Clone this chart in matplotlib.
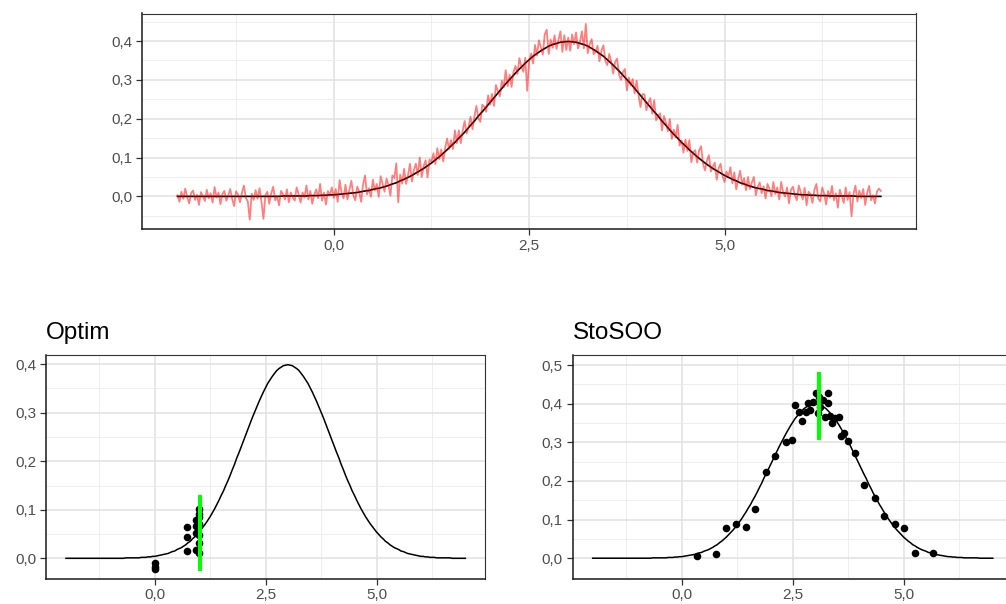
import numpy as np
import matplotlib
matplotlib.use('Agg')
import matplotlib.pyplot as plt

plt.rcParams['font.family'] = ['Liberation Sans', 'DejaVu Sans']

# density curve, x from -2 to 7 in steps of 0.05 (values in 1/1000)
curve_y = [0, 0, 0, 0, 0, 0, 0, 0, 0, 0, 0, 0, 0, 0, 0, 0, 0, 0, 0, 0, 0, 0, 0, 0, 0, 0, 0,
           1, 1, 1, 1, 1, 1, 1, 2, 2, 2, 3, 3, 4, 4,
           5, 6, 7, 8, 9, 10, 12, 14, 15, 18, 20, 22, 25, 28, 32, 35, 40, 44, 49, 54,
           60, 66, 72, 79, 86, 94, 102, 111, 120, 130, 139, 150, 160, 171, 183, 194, 207, 218, 230, 242,
           254, 266, 278, 290, 301, 312, 323, 333, 343, 352, 361, 368, 375, 381, 387, 391, 394, 397, 398, 399,
           398, 397, 394, 391, 387, 381, 375, 368, 361, 352, 343, 333, 323, 312, 301, 290, 278, 266, 254, 242,
           230, 218, 207, 194, 183, 171, 160, 150, 139, 130, 120, 111, 102, 94, 86, 79, 72, 66, 60, 54,
           49, 44, 40, 35, 32, 28, 25, 22, 20, 18, 15, 14, 12, 10, 9, 8, 7, 6, 5, 4,
           4, 3, 3, 2, 2, 2, 1, 1, 1, 1, 1, 1, 1, 0, 0, 0, 0, 0, 0, 0]
curve_x = np.linspace(-2, 7, len(curve_y))
curve_y = np.array(curve_y) / 1000

# noisy observations, x from -2 to 7 in steps of 0.025 (values in 1/1000)
noisy_y = [3, -14, 12, -6, 20, -2, -18, 9, 15, -9, 4, -22, 11, 1, -12, 17, -5, 8, -16, 24,
           -3, 10, -20, 6, 14, -11, 2, 19, -7, -25, 13, 5, -15, 9, 28, -4, -13, -60, 7, -9,
           16, -6, 21, -14, -58, 3, 12, -19, 8, 25, -10, 1, -23, 14, 6, -8, 18, -15, 10, -2,
           -11, 23, 6, -16, 10, -3, 28, -8, 14, -19, 4, 18, -5, 32, -11, 10, -21, 14, 2, 23,
           -4, 19, -14, 42, 10, -5, 30, -8, 17, 40, 3, -10, 25, 13, -14, 31, 54, 5, 21, -1,
           43, 15, 32, -1, 52, 32, 12, 46, 29, 2, 54, 47, 85, -15, 56, 33, 71, 32, 54, 84,
           38, 68, 84, 55, 100, 50, 78, 93, 49, 95, 89, 111, 83, 124, 96, 121, 90, 124, 149, 122,
           145, 122, 170, 137, 170, 137, 170, 194, 162, 179, 205, 173, 207, 233, 201, 192, 236, 231, 218, 260,
           236, 264, 233, 287, 271, 258, 298, 281, 325, 284, 313, 282, 321, 336, 315, 356, 334, 321, 357, 272,
           348, 368, 342, 390, 363, 402, 384, 365, 418, 429, 367, 404, 383, 415, 380, 402, 425, 372, 415, 377,
           409, 375, 417, 392, 422, 381, 397, 425, 381, 444, 369, 392, 405, 366, 373, 388, 348, 375, 389, 349,
           338, 367, 347, 316, 346, 355, 314, 300, 320, 328, 273, 306, 286, 302, 265, 298, 260, 230, 263, 263,
           222, 242, 253, 213, 248, 196, 208, 214, 170, 207, 190, 168, 199, 148, 172, 152, 184, 131, 144, 113,
           146, 117, 145, 88, 114, 119, 87, 119, 129, 84, 67, 92, 106, 64, 76, 87, 43, 73, 84, 52,
           37, 64, 51, 75, 34, 62, 18, 45, 66, 30, 47, 16, 50, 19, 36, 50, 3, 24, 36, 8,
           26, -5, 32, 19, 1, 37, 6, 23, -8, 37, 10, 0, 23, -18, 17, 25, 3, -10, 28, 11,
           -8, 22, -23, 12, 6, -17, 17, 32, -6, -13, 23, 7, -21, 14, -3, 27, -10, 8, -29, 17,
           2, -17, 23, -9, 11, -51, 6, 28, -13, 15, -4, 19, -22, 8, 27, -10, 3, -18, 12, 20,
           14]
noisy_x = np.linspace(-2, 7, len(noisy_y))
noisy_y = np.array(noisy_y) / 1000

# Optim evaluations
optim_x = [0, 0, 0, 0.73, 0.73, 0.73, 0.94, 0.94, 0.94, 0.94,
           0.99, 0.99, 0.99, 0.99, 0.99, 0.99, 0.99]
optim_y = [-0.010, -0.017, -0.023, 0.065, 0.043, 0.016, 0.079, 0.067, 0.053, 0.017,
           0.101, 0.092, 0.085, 0.070, 0.048, 0.032, 0.011]
optim_best = 1.01
optim_seg = (-0.023, 0.126)

# StoSOO evaluations
sto_x = [0.35, 0.78, 1.00, 1.23, 1.45, 1.66, 1.89, 2.11, 2.34, 2.49,
         2.55, 2.64, 2.71, 2.79, 2.85, 2.88, 2.95, 3.03, 3.08, 3.06,
         3.12, 3.18, 3.23, 3.30, 3.30, 3.34, 3.38, 3.45, 3.53, 3.58,
         3.66, 3.74, 3.89, 4.11, 4.34, 4.56, 4.79, 5.01, 5.24, 5.66]
sto_y = [0.006, 0.012, 0.079, 0.089, 0.082, 0.128, 0.224, 0.265, 0.301, 0.306,
         0.397, 0.379, 0.356, 0.379, 0.401, 0.383, 0.405, 0.427, 0.418, 0.375,
         0.392, 0.409, 0.366, 0.428, 0.401, 0.368, 0.349, 0.362, 0.366, 0.316,
         0.323, 0.304, 0.272, 0.190, 0.157, 0.109, 0.089, 0.077, 0.014, 0.014]
sto_best = 3.08
sto_seg = (0.31, 0.478)

x_major = [0, 2.5, 5]
x_minor = [-1.25, 1.25, 3.75, 6.25]

W, H = 1006, 604


def comma(v):
    return ('%.1f' % v).replace('.', ',')


def style(ax, ylim, y_major):
    ax.set_xlim(-2.45, 7.45)
    ax.set_ylim(*ylim)
    y_minor = [m + 0.05 for m in [-0.1] + y_major]
    y_minor = [m for m in y_minor if ylim[0] < m < ylim[1]]
    for m in x_minor:
        ax.axvline(m, color='#ebebeb', lw=0.6, zorder=0)
    for m in x_major:
        ax.axvline(m, color='#e0e0e0', lw=1.1, zorder=0)
    for m in y_minor:
        ax.axhline(m, color='#ebebeb', lw=0.6, zorder=0)
    for m in y_major:
        ax.axhline(m, color='#e0e0e0', lw=1.1, zorder=0)
    ax.set_xticks(x_major)
    ax.set_xticklabels([comma(v) for v in x_major])
    ax.set_yticks(y_major)
    ax.set_yticklabels([comma(v) for v in y_major])
    ax.tick_params(length=4, width=0.9, color='#333333', labelcolor='#4d4d4d',
                   labelsize=11, pad=3)
    for s in ['left', 'bottom']:
        ax.spines[s].set_color('#1a1a1a')
        ax.spines[s].set_linewidth(1.1)
    for s in ['top', 'right']:
        ax.spines[s].set_color('#333333')
        ax.spines[s].set_linewidth(0.8)


def box(l, r, t, b):
    return [l / W, 1 - b / H, (r - l) / W, (b - t) / H]


fig = plt.figure(figsize=(W / 100, H / 100), dpi=100)

ax1 = fig.add_axes(box(142.3, 916, 13.5, 229))
ax1.plot(curve_x, curve_y, color='black', lw=1.2, zorder=2)
ax1.plot(noisy_x, noisy_y, color='red', alpha=0.5, lw=1.3, zorder=3)
style(ax1, (-0.084, 0.471), [0, 0.1, 0.2, 0.3, 0.4])

ax2 = fig.add_axes(box(46, 485.3, 355, 578.7))
ax2.plot(curve_x, curve_y, color='black', lw=1.1, zorder=2)
ax2.scatter(optim_x, optim_y, s=30, color='black', zorder=3, linewidths=0)
ax2.plot([optim_best, optim_best], optim_seg, color='#00ff00', lw=2.9, zorder=4)
style(ax2, (-0.042, 0.419), [0, 0.1, 0.2, 0.3, 0.4])
fig.text(46 / W, 1 - 339.3 / H, 'Optim', fontsize=17.5, va='baseline', ha='left')

ax3 = fig.add_axes(box(572.7, 1012.8, 355, 578.7))
ax3.plot(curve_x, curve_y, color='black', lw=1.1, zorder=2)
ax3.scatter(sto_x, sto_y, s=30, color='black', zorder=3, linewidths=0)
ax3.plot([sto_best, sto_best], sto_seg, color='#00ff00', lw=2.9, zorder=4)
style(ax3, (-0.053, 0.526), [0, 0.1, 0.2, 0.3, 0.4, 0.5])
fig.text(572.7 / W, 1 - 339.3 / H, 'StoSOO', fontsize=17.5, va='baseline', ha='left')

fig.savefig('out.png', dpi=100)
